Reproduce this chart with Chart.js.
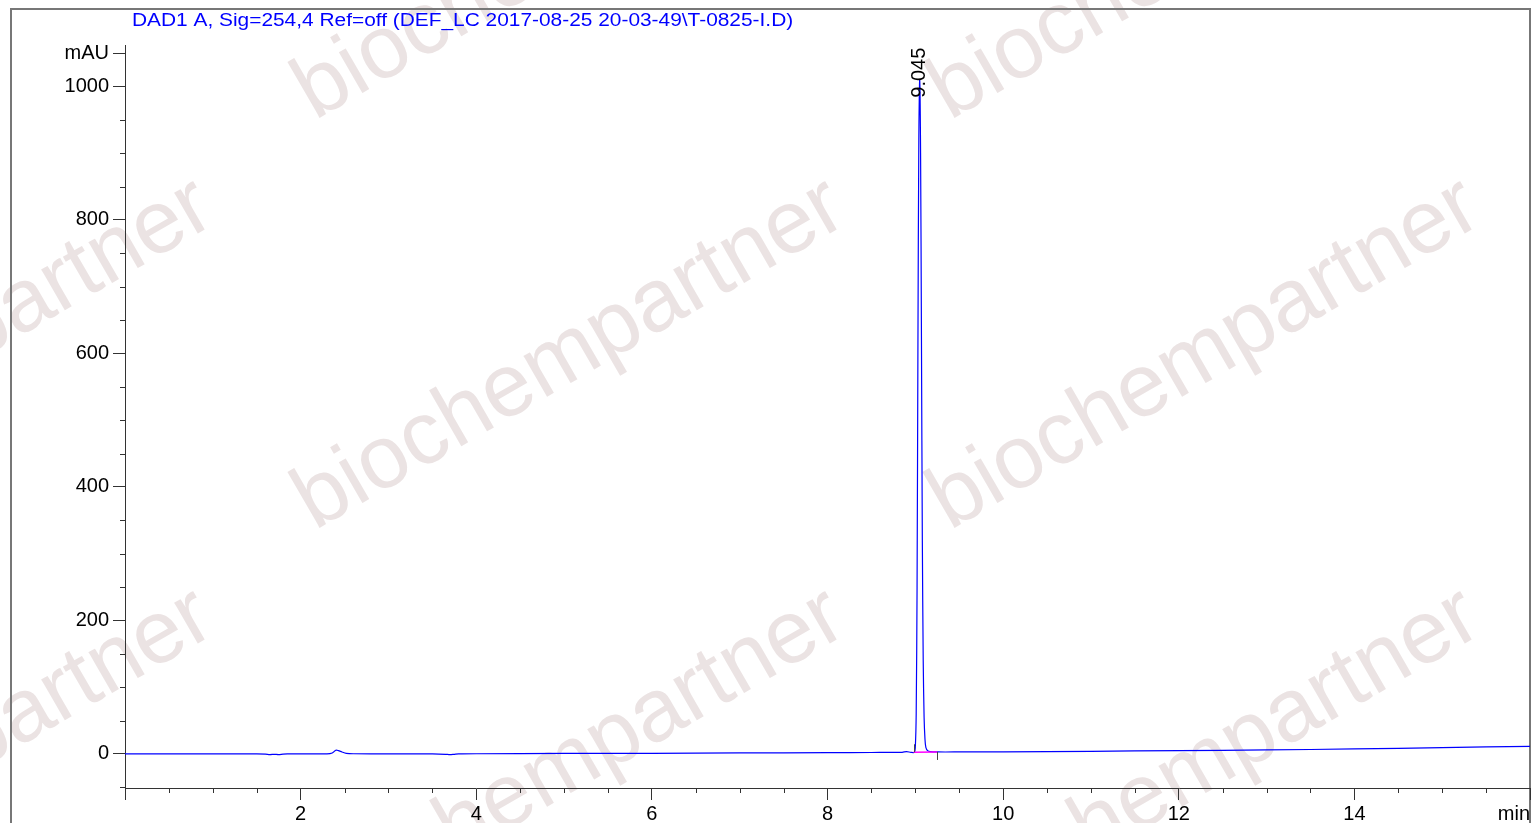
<!DOCTYPE html>
<html>
<head>
<meta charset="utf-8">
<script src="https://cdn.jsdelivr.net/npm/chart.js@4.4.1/dist/chart.umd.min.js"></script>
<style>
  html, body { margin: 0; padding: 0; background: #fff; }
  canvas { display: block; }
</style>
</head>
<body>
<canvas id="chromatogram" width="1534" height="823"></canvas>
<script>
// Signal DAD1 A (254 nm), retention time in minutes
const timeMin = [0, 0.5, 1.0, 1.5, 1.6, 1.65, 1.7, 1.75, 1.8, 1.85, 2.0, 2.3, 2.36, 2.4, 2.43, 2.47, 2.52, 2.6, 3.0, 3.5, 3.65, 3.7, 3.75, 3.8, 4.0, 5.0, 6.0, 7.0, 8.0, 8.5, 8.85, 8.9, 8.95, 8.99, 9.0, 9.01, 9.02, 9.03, 9.04, 9.05, 9.06, 9.07, 9.08, 9.09, 9.1, 9.11, 9.12, 9.14, 9.17, 9.25, 9.5, 10, 11, 12, 13, 14, 15, 16];
const signalMAU = [0, 0, 0, 0, -0.3, -1, -0.5, -1, -0.3, 0, 0, 0.2, 1.5, 5.5, 5, 3, 1, 0.3, 0, 0, -0.5, -1, -0.5, 0, 0.3, 0.8, 1, 1.5, 2, 2.2, 2.5, 3.5, 2.5, 2.5, 10, 60, 250, 620, 920, 1010, 900, 620, 320, 140, 55, 22, 10, 5, 3.5, 3, 3, 3.2, 4, 5, 6, 7.5, 9.5, 11.5];

// integration baseline and peak label
const peakLabels = ["9.045"];
const peakTimes = [9.05];
const peakHeights = [1010];
const baseStart = [8.98, 2.5];
const baseEnd = [9.25, 3];

// axes
const xTickValues = [0, 2, 4, 6, 8, 10, 12, 14, 16];
const yTickValues = [0, 200, 400, 600, 800, 1000, 1050];
const titleText = "DAD1 A, Sig=254,4 Ref=off (DEF_LC 2017-08-25 20-03-49\\T-0825-I.D)";
const FONT = "'Liberation Sans', Arial, sans-serif";

const tracePoints = timeMin.map((t, i) => ({ x: t, y: signalMAU[i] }));

const decorPlugin = {
  id: "decor",
  beforeDraw(chart) {
    const ctx = chart.ctx;
    ctx.save();
    ctx.fillStyle = "#fff";
    ctx.fillRect(0, 0, chart.width, chart.height);

    // watermark
    ctx.fillStyle = "#ebe3e3";
    ctx.font = "89px " + FONT;
    ctx.textAlign = "center";
    ctx.textBaseline = "middle";
    [-62, 570, 1205].forEach(cx => {
      [-55, 355, 765].forEach(cy => {
        ctx.save();
        ctx.translate(cx, cy);
        ctx.rotate(-30 * Math.PI / 180);
        ctx.fillText("biochempartner", 0, 0);
        ctx.restore();
      });
    });

    // frame
    ctx.strokeStyle = "#777";
    ctx.lineWidth = 2;
    ctx.beginPath();
    ctx.moveTo(11, 830);
    ctx.lineTo(11, 9);
    ctx.lineTo(1530, 9);
    ctx.lineTo(1530, 830);
    ctx.stroke();

    // title (the original print is a bit wider than the font)
    ctx.fillStyle = "#0000ff";
    ctx.font = "18px " + FONT;
    ctx.textAlign = "left";
    ctx.textBaseline = "middle";
    ctx.translate(132, 21);
    ctx.scale(1.16, 1);
    ctx.fillText(titleText, 0, 0);
    ctx.restore();
  },
  afterDraw(chart) {
    const ctx = chart.ctx;
    const xs = chart.scales.x, ys = chart.scales.y;
    const area = chart.chartArea;
    ctx.save();
    ctx.strokeStyle = "#333";
    ctx.lineWidth = 1;
    ctx.beginPath();
    // minor ticks x
    for (let v = 0.5; v < 16; v += 0.5) {
      if (xTickValues.includes(v)) continue;
      const px = Math.round(xs.getPixelForValue(v)) + 0.5;
      ctx.moveTo(px, area.bottom);
      ctx.lineTo(px, area.bottom + 5);
    }
    // minor ticks y
    for (let v = -50; v <= 1050; v += 50) {
      if (yTickValues.includes(v)) continue;
      const py = Math.round(ys.getPixelForValue(v)) + 0.5;
      ctx.moveTo(area.left, py);
      ctx.lineTo(area.left - 5, py);
    }
    ctx.stroke();

    // integration markers
    ctx.strokeStyle = "#444";
    ctx.beginPath();
    let px = Math.round(xs.getPixelForValue(baseStart[0])) + 0.5;
    let py = ys.getPixelForValue(baseStart[1]);
    ctx.moveTo(px, py);
    ctx.lineTo(px, py - 8);
    px = Math.round(xs.getPixelForValue(baseEnd[0])) + 0.5;
    py = ys.getPixelForValue(baseEnd[1]);
    ctx.moveTo(px, py);
    ctx.lineTo(px, py + 8);
    ctx.stroke();

    // peak labels
    ctx.fillStyle = "#000";
    ctx.font = "20px " + FONT;
    ctx.textAlign = "left";
    ctx.textBaseline = "middle";
    peakLabels.forEach((lab, i) => {
      const lx = xs.getPixelForValue(peakTimes[i]);
      const ly = ys.getPixelForValue(peakHeights[i]);
      ctx.save();
      ctx.translate(lx, ly + 18);
      ctx.rotate(-Math.PI / 2);
      ctx.fillText(lab, 0, 0);
      ctx.restore();
    });
    ctx.restore();
  }
};

new Chart(document.getElementById("chromatogram"), {
  type: "line",
  data: {
    datasets: [
      {
        label: "baseline",
        data: [{ x: baseStart[0], y: baseStart[1] }, { x: baseEnd[0], y: baseEnd[1] }],
        borderColor: "#ff00ff",
        borderWidth: 1.5,
        pointRadius: 0,
        order: 0
      },
      {
        label: "DAD1 A",
        data: tracePoints,
        borderColor: "#0000ff",
        borderWidth: 1.2,
        pointRadius: 0,
        tension: 0.3,
        order: 1
      }
    ]
  },
  options: {
    responsive: false,
    devicePixelRatio: 1,
    animation: false,
    layout: { padding: { left: 0, top: 45, right: 4, bottom: 0 } },
    plugins: {
      legend: { display: false },
      tooltip: { enabled: false }
    },
    scales: {
      x: {
        type: "linear",
        min: 0,
        max: 16,
        afterBuildTicks: s => { s.ticks = xTickValues.map(v => ({ value: v })); },
        afterFit: s => { s.height = 35; },
        ticks: {
          autoSkip: false,
          maxRotation: 0,
          align: "inner",
          padding: 2,
          color: "#000",
          font: { size: 20, family: FONT },
          callback: v => (v === 0 ? "" : v === 16 ? "min" : String(v))
        },
        grid: { drawOnChartArea: false, tickLength: 12, color: "#333" },
        border: { color: "#333", width: 1 }
      },
      y: {
        min: -51,
        max: 1062,
        afterBuildTicks: s => { s.ticks = yTickValues.map(v => ({ value: v })); },
        afterFit: s => { s.width = 125; },
        ticks: {
          autoSkip: false,
          padding: 4,
          color: "#000",
          font: { size: 20, family: FONT },
          callback: v => (v === 1050 ? "mAU" : String(v))
        },
        grid: { drawOnChartArea: false, tickLength: 12, color: "#333" },
        border: { color: "#333", width: 1 }
      }
    }
  },
  plugins: [decorPlugin]
});
</script>
</body>
</html>
